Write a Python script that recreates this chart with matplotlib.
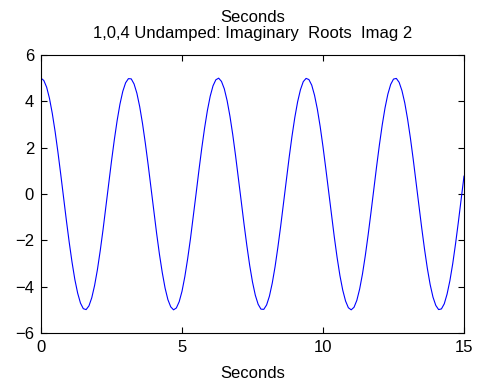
import numpy as np
import matplotlib
matplotlib.use("Agg")
import matplotlib.pyplot as plt

plt.rcParams['font.family'] = ['Liberation Sans', 'DejaVu Sans']

# time samples (s) and response, step 0.1 s
t = np.arange(151) * 0.1
x = [5.00, 4.90, 4.61, 4.13, 3.48, 2.70, 1.81, 0.85, -0.15, -1.14,
     -2.08, -2.94, -3.69, -4.28, -4.71, -4.95, -4.99, -4.83, -4.48, -3.95,
     -3.27, -2.45, -1.54, -0.56, 0.44, 1.42, 2.34, 3.17, 3.88, 4.43,
     4.80, 4.98, 4.97, 4.75, 4.35, 3.77, 3.04, 2.19, 1.26, 0.27,
     -0.73, -1.70, -2.60, -3.39, -4.06, -4.56, -4.87, -5.00, -4.92, -4.65,
     -4.20, -3.57, -2.80, -1.93, -0.97, 0.02, 1.02, 1.97, 2.84, 3.60,
     4.22, 4.67, 4.93, 5.00, 4.86, 4.54, 4.03, 3.36, 2.56, 1.65,
     0.68, -0.31, -1.30, -2.23, -3.08, -3.80, -4.37, -4.76, -4.97, -4.98,
     -4.79, -4.41, -3.85, -3.14, -2.30, -1.38, -0.39, 0.60, 1.58, 2.49,
     3.30, 3.98, 4.50, 4.85, 4.99, 4.94, 4.70, 4.26, 3.66, 2.91,
     2.04, 1.09, 0.10, -0.89, -1.85, -2.74, -3.52, -4.15, -4.62, -4.91,
     -5.00, -4.89, -4.59, -4.10, -3.45, -2.66, -1.77, -0.81, 0.19, 1.18,
     2.12, 2.98, 3.72, 4.31, 4.73, 4.96, 4.99, 4.82, 4.46, 3.93,
     3.23, 2.41, 1.49, 0.52, -0.48, -1.46, -2.38, -3.21, -3.91, -4.45,
     -4.81, -4.99, -4.96, -4.74, -4.32, -3.74, -3.01, -2.15, -1.21, -0.23,
     0.77]

xticks = [0, 5, 10, 15]
yticks = [-6, -4, -2, 0, 2, 4, 6]

fig = plt.figure(figsize=(4.87, 3.81), dpi=100)
ax = fig.add_axes([41/487, 1-333/381, (464-41)/487, (333-55)/381])

ax.plot(t, x, color='#0000ff', lw=0.8)

ax.set_xlim(0, 15)
ax.set_ylim(-6, 6)
ax.set_xticks(xticks)
ax.set_yticks(yticks)
ax.tick_params(direction='in', length=4, width=0.8, top=True, right=True,
               labelsize=12, pad=5)
for s in ax.spines.values():
    s.set_linewidth(0.8)

ax.set_title('Seconds\n1,0,4 Undamped: Imaginary  Roots  Imag 2', fontsize=12,
             pad=12, linespacing=1.15)
ax.set_xlabel('Seconds', fontsize=12, labelpad=8)

fig.savefig('out.png', dpi=100)
